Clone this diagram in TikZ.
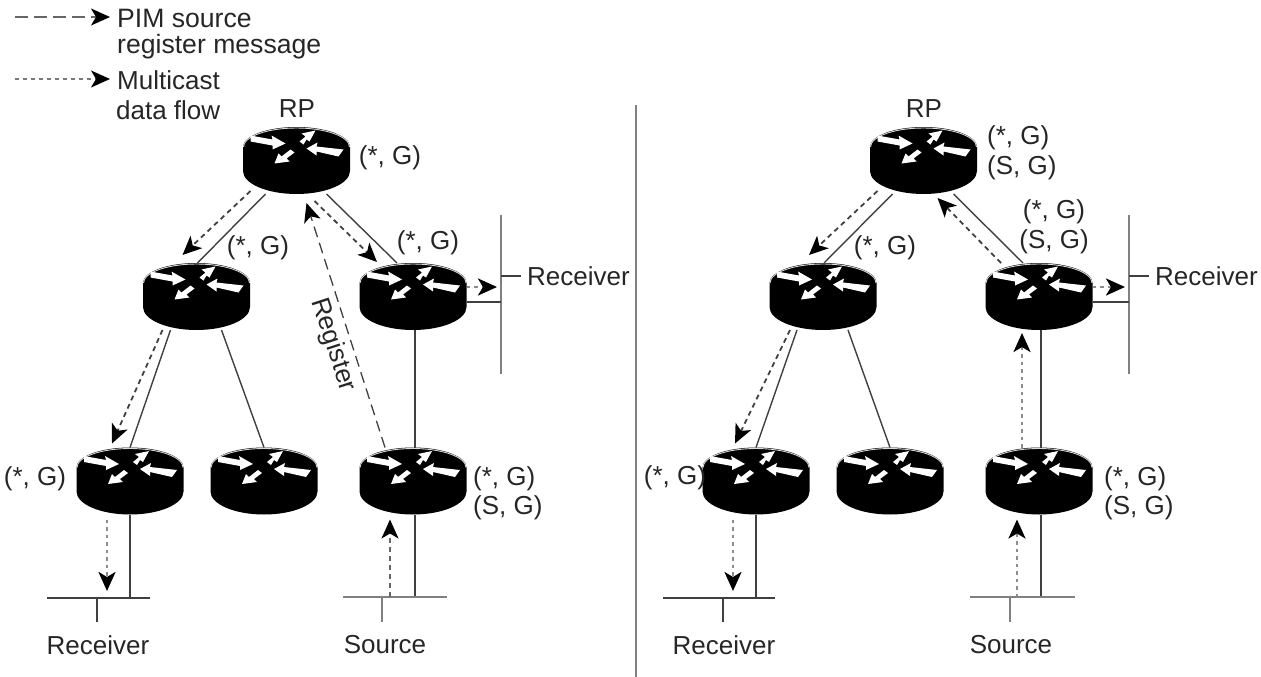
\documentclass[tikz,border=0pt]{standalone}
\usepackage{fontspec}
\setmainfont{Liberation Sans}
\usetikzlibrary{arrows.meta}
\definecolor{ink}{gray}{0.15}
\definecolor{wire}{gray}{0.25}
\definecolor{lan}{gray}{0.5}
\definecolor{flow}{gray}{0.55}
\tikzset{
  routerbox/.style={minimum width=107pt,minimum height=67pt,inner sep=0pt,outer sep=0pt},
  lbl/.style={text=ink,font=\fontsize{26}{26}\selectfont,inner sep=0pt},
  leglbl/.style={text=ink,font=\fontsize{26.6}{26.6}\selectfont,inner sep=0pt},
  wired/.style={draw=wire,line width=1.4pt},
  lanbar/.style={draw=lan,line width=1.6pt},
  tip/.style={-{Stealth[length=19pt,width=17pt,inset=5pt,color=black]}},
  regflow/.style={draw=wire,line width=1.3pt,dash pattern=on 11pt off 6pt,tip},
  dataflow/.style={draw=wire,line width=1.8pt,dash pattern=on 5pt off 4pt,tip},
  grayflow/.style={draw=flow,line width=2.8pt,dash pattern=on 3.5pt off 4pt,tip},
}
\newcommand{\routerat}[3]{%
  \node[routerbox] (#1) at (#2,#3) {};
  \begin{scope}[shift={(#1.center)}]
    \fill[black] (-53.5,-13.5) arc[start angle=180,end angle=0,x radius=53.5,y radius=-20]
      -- (53.5,10.5) arc[start angle=0,end angle=-180,x radius=53.5,y radius=-23] -- cycle;
    \draw[white!85!black,line width=0.9pt] (-53,-13.5) arc[start angle=180,end angle=360,x radius=53,y radius=19];
    \fill[white] (-46,-25) -- (-24,-21) -- (-25,-25) -- (-11,-17) -- (-24,-11) -- (-24,-15) -- (-46,-19) -- cycle;
    \fill[white] (3,-19) -- (9,-24) -- (5,-27) -- (19,-30) -- (13,-19) -- (10,-21) -- (7,-16) -- cycle;
    \fill[white] (10,-12) -- (21,-18) -- (20,-14) -- (47,-11) -- (42,-4) -- (20,-9) -- (20,-5) -- cycle;
    \fill[white] (-22,3) -- (-18,-7) -- (-15,-4) -- (-6,-11) -- (-2,-8) -- (-10,-2) -- (-7,1) -- cycle;
  \end{scope}}
\begin{document}
\begin{tikzpicture}[x=1pt,y=-1pt]
\useasboundingbox (0,0) rectangle (1261,677);
% legend
\coordinate (lega) at (15,17); \coordinate (legb) at (110,17);
\coordinate (legc) at (15,79); \coordinate (legd) at (110,79);
\draw[draw=wire!80,line width=1.3pt,dash pattern=on 13pt off 6pt,tip] (lega) -- (legb);
\draw[draw=wire!70,line width=1.3pt,dash pattern=on 4pt off 4pt,tip] (legc) -- (legd);
\node[leglbl,anchor=west] (t1) at (117,18) {PIM source};
\node[leglbl,anchor=west] (t2) at (117,47) {register message};
\node[lbl,anchor=west] (t3) at (117,80) {Multicast};
\node[lbl,anchor=west] (t4) at (116,110) {data flow};
% divider
\coordinate (diva) at (636,105); \coordinate (divb) at (636,677);
\draw[lanbar] (diva) -- (divb);
% LEFT routers
\routerat{rp}{296.5}{160.5}
\routerat{la}{196.5}{296.5}
\routerat{ra}{413}{296.5}
\routerat{lla}{130}{481}
\routerat{lma}{264}{481}
\routerat{lra}{413}{481}
% RIGHT routers
\routerat{rq}{923.5}{160.5}
\routerat{lb}{823}{296.5}
\routerat{rb}{1039}{296.5}
\routerat{llb}{756}{481}
\routerat{lmb}{890}{481}
\routerat{lrb}{1039}{481}
% LEFT wires
\draw[wired] ([xshift=-31pt]rp.south) -- ([xshift=1pt]la.north);
\draw[wired] ([xshift=30pt]rp.south) -- ([xshift=-16pt]ra.north);
\draw[wired] ([xshift=-26pt]la.south) -- (lla.north);
\draw[wired] ([xshift=25pt]la.south) -- (lma.north);
\draw[wired] ([xshift=2pt]ra.south) -- ([xshift=2pt]lra.north);
% LEFT lans
\coordinate (lana) at (130,598); \coordinate (lanb) at (415,597);
\coordinate (lanaL) at (47,598); \coordinate (lanaR) at (150,598);
\coordinate (lanbL) at (343,597); \coordinate (lanbR) at (447,597);
\coordinate (staa) at (97,598); \coordinate (stab) at (97,622);
\coordinate (stba) at (382,597); \coordinate (stbb) at (382,622);
\draw[wired] (lla.south) -- (lana);
\draw[wired] ([xshift=2pt]lra.south) -- (lanb);
\draw[wired,line width=1.2pt] (lanaL) -- (lanaR);
\draw[lanbar] (lanbL) -- (lanbR);
\draw[wired,line width=1.1pt] (staa) -- (stab);
\draw[wired,draw=lan] (stba) -- (stbb);
\coordinate (ra1) at (501,215); \coordinate (ra2) at (501,374);
\coordinate (rab) at (501,302); \coordinate (rs1) at (501,276); \coordinate (rs2) at (521,276);
\coordinate (raf) at (497,287);
\draw[lanbar] (ra1) -- (ra2);
\draw[wired] ([yshift=-5.5pt]ra.east) -- (rab);
\draw[wired] (rs1) -- (rs2);
% LEFT flows
\draw[dataflow] ([shift={(-46pt,3pt)}]rp.south) -- ([shift={(-14pt,8pt)}]la.north);
\draw[dataflow] ([shift={(18pt,-7pt)}]rp.south) -- ([shift={(-36pt,1pt)}]ra.north);
\draw[regflow] ([xshift=-28pt]lra.north) -- ([shift={(10pt,-9pt)}]rp.south);
\draw[dataflow] ([xshift=-34pt]la.south) -- ([xshift=-18pt,yshift=4pt]lla.north);
\draw[grayflow] ([shift={(-23pt,-5pt)}]lla.south) -- ([xshift=-23pt,yshift=7pt]lana);
\draw[dataflow,draw=wire!80] ([xshift=-25pt]lanb) -- ([shift={(-23pt,-5pt)}]lra.south);
\draw[grayflow] ([yshift=9.5pt]ra.east) -- (raf);
% RIGHT wires
\draw[wired] ([xshift=-31pt]rq.south) -- ([xshift=1pt]lb.north);
\draw[wired] ([xshift=30pt]rq.south) -- ([xshift=-16pt]rb.north);
\draw[wired] ([xshift=-26pt]lb.south) -- (llb.north);
\draw[wired] ([xshift=25pt]lb.south) -- (lmb.north);
\draw[wired] ([xshift=2pt]rb.south) -- ([xshift=2pt]lrb.north);
% RIGHT lans
\coordinate (lanc) at (756,598); \coordinate (land) at (1041,597);
\coordinate (lancL) at (663,598); \coordinate (lancR) at (775,598);
\coordinate (landL) at (970,597); \coordinate (landR) at (1075,597);
\coordinate (stca) at (723,598); \coordinate (stcb) at (723,622);
\coordinate (stda) at (1010,597); \coordinate (stdb) at (1010,622);
\draw[wired] (llb.south) -- (lanc);
\draw[wired] ([xshift=2pt]lrb.south) -- (land);
\draw[wired,line width=1.2pt] (lancL) -- (lancR);
\draw[lanbar] (landL) -- (landR);
\draw[wired,line width=1.1pt] (stca) -- (stcb);
\draw[wired,draw=lan] (stda) -- (stdb);
\coordinate (rb1) at (1129,215); \coordinate (rb2) at (1129,374);
\coordinate (rbb) at (1129,302); \coordinate (rt1) at (1129,276); \coordinate (rt2) at (1149,276);
\coordinate (rbf) at (1125,287);
\draw[lanbar] (rb1) -- (rb2);
\draw[wired] ([yshift=-5.5pt]rb.east) -- (rbb);
\draw[wired] (rt1) -- (rt2);
% RIGHT flows
\draw[dataflow] ([shift={(-46pt,3pt)}]rq.south) -- ([shift={(-14pt,8pt)}]lb.north);
\draw[dataflow] ([xshift=-38pt]rb.north) -- ([shift={(14pt,-4pt)}]rq.south);
\draw[dataflow] ([xshift=-33pt]lb.south) -- ([xshift=-21pt,yshift=4pt]llb.north);
\draw[grayflow] ([shift={(-23pt,-5pt)}]llb.south) -- ([xshift=-23pt,yshift=7pt]lanc);
\draw[grayflow] ([xshift=-24pt]land) -- ([shift={(-22pt,-5pt)}]lrb.south);
\draw[grayflow] ([xshift=-17pt]lrb.north) -- ([shift={(-17pt,-3pt)}]rb.south);
\draw[grayflow] ([yshift=9.5pt]rb.east) -- (rbf);
% texts
\node[lbl] (rpt) at (297,109) {RP};
\node[lbl] (rqt) at (924,109) {RP};
\node[lbl] (g1) at (390,158) {(*, G)};
\node[lbl] (g2) at (258,248) {(*, G)};
\node[lbl] (g3) at (428,243) {(*, G)};
\node[lbl] (g4) at (35,479) {(*, G)};
\node[lbl,anchor=west] (g5) at (473,479) {(*, G)};
\node[lbl,anchor=west] (g6) at (473,508) {(S, G)};
\node[lbl,anchor=west] (g7) at (987,138) {(*, G)};
\node[lbl,anchor=west] (g8) at (987,168) {(S, G)};
\node[lbl] (g9) at (885,248) {(*, G)};
\node[lbl] (g10) at (1054,212) {(*, G)};
\node[lbl] (g11) at (1054,242) {(S, G)};
\node[lbl] (g12) at (675,478) {(*, G)};
\node[lbl,anchor=west] (g13) at (1104,479) {(*, G)};
\node[lbl,anchor=west] (g14) at (1104,508) {(S, G)};
\node[lbl,rotate=-72] (reg) at (333,345) {Register};
\node[lbl,anchor=west] (rc1) at (527,276) {Receiver};
\node[lbl,anchor=west] (rc2) at (1155,276) {Receiver};
\node[lbl] (rc3) at (98,645) {Receiver};
\node[lbl] (rc4) at (724,645) {Receiver};
\node[lbl] (sc1) at (385,645) {Source};
\node[lbl] (sc2) at (1011,645) {Source};
\end{tikzpicture}
\end{document}
